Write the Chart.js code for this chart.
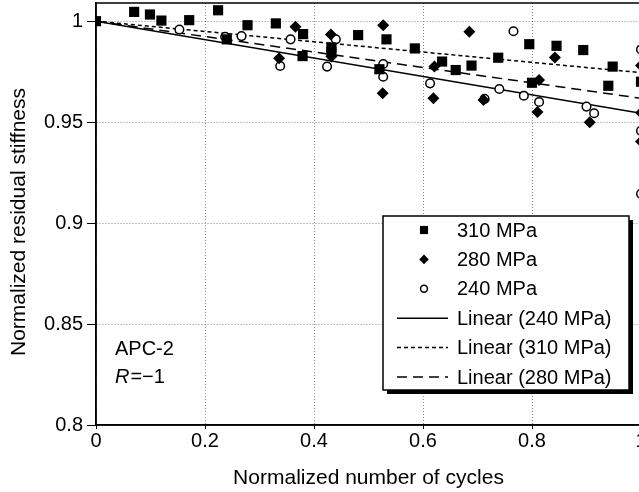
<!DOCTYPE html>
<html>
<head>
<meta charset="utf-8">
<script src="https://cdn.jsdelivr.net/npm/chart.js@4.4.0/dist/chart.umd.min.js"></script>
<style>
  html, body { margin: 0; padding: 0; background: #fff; overflow: hidden; }
  #wrap { width: 639px; height: 492px; overflow: hidden; }
</style>
</head>
<body>
<div id="wrap"><canvas id="chart" width="650" height="492"></canvas></div>
<script>
// axis ticks
const xTicks = [0, 0.2, 0.4, 0.6, 0.8, 1];
const yTicks = [0.8, 0.85, 0.9, 0.95, 1];

// 310 MPa (squares)
const x310 = [0, 0.070, 0.099, 0.120, 0.171, 0.224, 0.240, 0.278, 0.330, 0.380, 0.379, 0.432, 0.432,
  0.481, 0.533, 0.520, 0.585, 0.635, 0.660, 0.689, 0.738, 0.795, 0.800, 0.845, 0.894, 0.948, 0.940, 1.0];
const y310 = [1.0, 1.0046, 1.0033, 1.0003, 1.0005, 1.0054, 0.9910, 0.9980, 0.9989, 0.9936, 0.9827, 0.9870, 0.9848,
  0.9931, 0.9910, 0.9762, 0.9865, 0.9800, 0.9758, 0.9780, 0.9819, 0.9886, 0.9695, 0.9878, 0.9857, 0.9775, 0.9680, 0.9700];

// 280 MPa (diamonds)
const x280 = [0.336, 0.366, 0.431, 0.432, 0.527, 0.526, 0.619, 0.621, 0.685, 0.711, 0.813, 0.842, 0.810, 0.906, 1.0, 1.0, 1.0];
const y280 = [0.9816, 0.9972, 0.9934, 0.9825, 0.9980, 0.9643, 0.9618, 0.9775, 0.9947, 0.9610, 0.9709, 0.9820, 0.9550, 0.9500, 0.9780, 0.9547, 0.9404];

// 240 MPa (open circles)
const x240 = [0.153, 0.237, 0.267, 0.338, 0.357, 0.424, 0.440, 0.527, 0.527, 0.613, 0.713, 0.740, 0.766, 0.785, 0.813, 0.900, 0.914, 1.0, 1.0, 1.0];
const y240 = [0.9959, 0.9923, 0.9926, 0.9778, 0.9910, 0.9775, 0.9910, 0.9788, 0.9725, 0.9692, 0.9615, 0.9664, 0.9950, 0.9631, 0.9600, 0.9577, 0.9544, 0.9860, 0.9457, 0.9145];

// linear fits, start and end
const fitX = [0, 1];
const fit240 = [1, 0.9544];
const fit310 = [1, 0.9745];
const fit280 = [1, 0.9618];

const pts = (xs, ys) => xs.map((x, i) => ({ x: x, y: ys[i] }));
const FONT = "'Liberation Sans', Arial, Helvetica, sans-serif";

const datasets = [
  { type: 'scatter', label: '310 MPa', data: pts(x310, y310), pointStyle: 'rect', pointRadius: 7.2,
    backgroundColor: '#000', borderColor: '#000', borderWidth: 0 },
  { type: 'scatter', label: '280 MPa', data: pts(x280, y280), pointStyle: 'rectRot', pointRadius: 6,
    backgroundColor: '#000', borderColor: '#000', borderWidth: 0 },
  { type: 'scatter', label: '240 MPa', data: pts(x240, y240), pointStyle: 'circle', pointRadius: 4.3,
    backgroundColor: '#fff', borderColor: '#000', borderWidth: 1.5 },
  { type: 'line', label: 'Linear (240 MPa)', data: pts(fitX, fit240), borderColor: '#000', borderWidth: 1.5,
    borderDash: [], pointRadius: 0, fill: false },
  { type: 'line', label: 'Linear (310 MPa)', data: pts(fitX, fit310), borderColor: '#000', borderWidth: 1.5,
    borderDash: [4, 3], pointRadius: 0, fill: false },
  { type: 'line', label: 'Linear (280 MPa)', data: pts(fitX, fit280), borderColor: '#000', borderWidth: 1.5,
    borderDash: [10, 6], pointRadius: 0, fill: false }
];

function marker(ctx, ds, x, y) {
  ctx.save();
  ctx.fillStyle = ds.backgroundColor;
  ctx.strokeStyle = ds.borderColor;
  ctx.lineWidth = ds.borderWidth;
  ctx.beginPath();
  const r = ds.pointRadius;
  if (ds.pointStyle === 'rect') {
    const s = Math.SQRT1_2 * r;
    ctx.rect(x - s, y - s, 2 * s, 2 * s);
  } else if (ds.pointStyle === 'rectRot') {
    ctx.moveTo(x - r, y); ctx.lineTo(x, y - r); ctx.lineTo(x + r, y); ctx.lineTo(x, y + r); ctx.closePath();
  } else {
    ctx.arc(x, y, r, 0, Math.PI * 2);
  }
  ctx.fill();
  if (ds.borderWidth > 0) ctx.stroke();
  ctx.restore();
}

const framePlugin = {
  id: 'frame',
  beforeDatasetsDraw(chart) {
    const { ctx, chartArea: a } = chart;
    ctx.save();
    ctx.strokeStyle = '#000';
    ctx.lineWidth = 1.5;
    ctx.strokeRect(a.left, a.top, a.right - a.left, a.bottom - a.top);
    ctx.restore();
  }
};

// y axis title, drawn a little below the plot centre like the original
const yTitlePlugin = {
  id: 'yTitle',
  afterDraw(chart) {
    const ctx = chart.ctx;
    ctx.save();
    ctx.translate(19, 222);
    ctx.rotate(-Math.PI / 2);
    ctx.fillStyle = '#000';
    ctx.font = '21px ' + FONT;
    ctx.textAlign = 'center';
    ctx.textBaseline = 'middle';
    ctx.fillText('Normalized residual stiffness', 0, 0);
    ctx.restore();
  }
};

const notePlugin = {
  id: 'note',
  afterDraw(chart) {
    const { ctx, chartArea: a } = chart;
    ctx.save();
    ctx.fillStyle = '#000';
    ctx.textBaseline = 'middle';
    ctx.font = '20px ' + FONT;
    const x = a.left + 19;
    ctx.fillText('APC-2', x, 349);
    ctx.font = 'italic 20px ' + FONT;
    ctx.fillText('R', x, 377);
    const w = ctx.measureText('R').width;
    ctx.font = '20px ' + FONT;
    ctx.fillText('=\u22121', x + w + 1, 377);
    ctx.restore();
  }
};

const legendPlugin = {
  id: 'boxLegend',
  afterDraw(chart) {
    const ctx = chart.ctx;
    const L = 383, T = 216, W = 246, H = 174;
    ctx.save();
    ctx.fillStyle = '#000';
    ctx.fillRect(L + 4, T + 4, W, H);
    ctx.fillStyle = '#fff';
    ctx.fillRect(L, T, W, H);
    ctx.strokeStyle = '#000';
    ctx.lineWidth = 1.5;
    ctx.strokeRect(L, T, W, H);
    ctx.font = '20px ' + FONT;
    ctx.textBaseline = 'middle';
    chart.data.datasets.forEach((ds, i) => {
      const y = 230 + i * 29.4;
      if (ds.type === 'line') {
        ctx.save();
        ctx.strokeStyle = ds.borderColor;
        ctx.lineWidth = ds.borderWidth;
        ctx.setLineDash(ds.borderDash);
        ctx.beginPath();
        ctx.moveTo(397, y);
        ctx.lineTo(448, y);
        ctx.stroke();
        ctx.restore();
      } else {
        marker(ctx, Object.assign({}, ds, { pointRadius: ds.pointRadius * 0.8 }), 424, y);
      }
      ctx.fillStyle = '#000';
      ctx.fillText(ds.label, 457, y + 1);
    });
    ctx.restore();
  }
};

// keep the tick labels from pushing the plot area inwards
const noPad = s => { s.paddingTop = 0; s.paddingBottom = 0; s.paddingLeft = 0; s.paddingRight = 0; };

new Chart(document.getElementById('chart'), {
  type: 'scatter',
  data: { datasets: datasets },
  options: {
    responsive: false,
    animation: false,
    layout: { autoPadding: false, padding: { top: 3, right: 9, left: 0, bottom: 0 } },
    plugins: { legend: { display: false }, tooltip: { enabled: false } },
    scales: {
      x: {
        type: 'linear', min: 0, max: 1,
        afterFit: s => { s.height = 67; noPad(s); },
        afterBuildTicks: s => { s.ticks = xTicks.map(v => ({ value: v })); },
        grid: { color: '#888', lineWidth: 1, tickLength: 4, tickColor: '#000', tickBorderDash: [], tickWidth: 1 },
        border: { display: true, color: '#000', width: 1.5, dash: [1, 2] },
        ticks: { color: '#000', font: { family: FONT, size: 20 }, padding: 0, maxRotation: 0,
          callback: v => String(Math.round(v * 10) / 10) },
        title: { display: true, text: 'Normalized number of cycles', color: '#000',
          font: { family: FONT, size: 21 }, padding: { top: 0, bottom: 1 } }
      },
      y: {
        type: 'linear', min: 0.8, max: 1.009,
        afterFit: s => { s.width = 96; noPad(s); },
        afterBuildTicks: s => { s.ticks = yTicks.map(v => ({ value: v })); },
        grid: { color: '#888', lineWidth: 1, tickLength: 9, tickColor: '#000', tickBorderDash: [], tickWidth: 1 },
        border: { display: true, color: '#000', width: 1.5, dash: [1, 2] },
        ticks: { color: '#000', font: { family: FONT, size: 20 }, padding: 4,
          callback: v => String(Math.round(v * 100) / 100) },
        title: { display: false }
      }
    }
  },
  plugins: [framePlugin, yTitlePlugin, notePlugin, legendPlugin]
});
</script>
</body>
</html>
